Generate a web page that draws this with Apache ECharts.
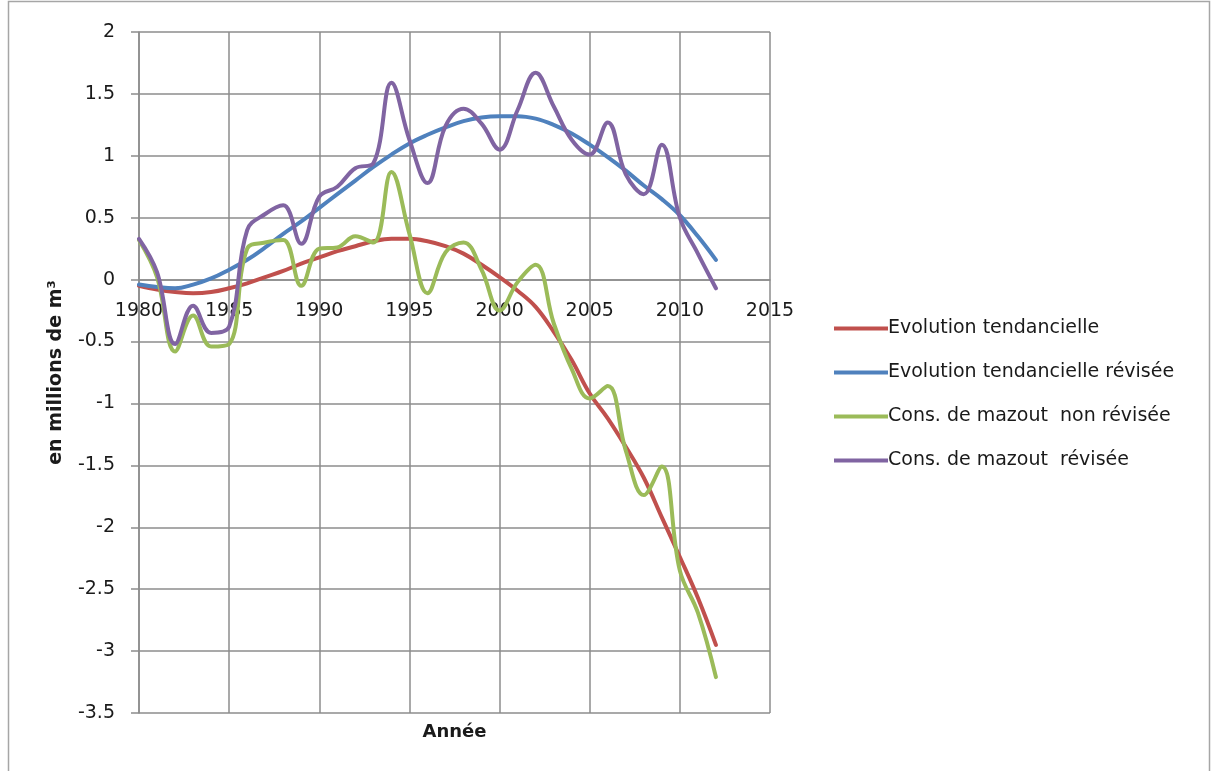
<!DOCTYPE html>
<html>
<head>
<meta charset="utf-8">
<title>Consommation de mazout</title>
<script src="https://cdn.jsdelivr.net/npm/echarts@6/dist/echarts.min.js"></script>
<style>
  html, body { margin: 0; padding: 0; background: #ffffff; }
  #chart { width: 1213px; height: 771px; }
</style>
</head>
<body>
<div id="chart"></div>
<script>
// Années 1980 à 2012
const years = [1980,1981,1982,1983,1984,1985,1986,1987,1988,1989,1990,1991,1992,1993,1994,1995,1996,
  1997,1998,1999,2000,2001,2002,2003,2004,2005,2006,2007,2008,2009,2010,2011,2012];

// Evolution tendancielle (millions de m3)
const trend = [-0.05,-0.08,-0.10,-0.11,-0.10,-0.07,-0.03,0.02,0.07,0.13,0.18,0.23,0.27,0.31,0.33,0.33,0.31,
  0.27,0.21,0.12,0.02,-0.09,-0.22,-0.42,-0.65,-0.92,-1.12,-1.35,-1.60,-1.92,-2.24,-2.57,-2.95];

// Evolution tendancielle révisée
const trendRevised = [-0.04,-0.06,-0.07,-0.04,0.01,0.08,0.16,0.26,0.37,0.47,0.58,0.69,0.80,0.91,1.01,1.10,1.17,
  1.23,1.28,1.31,1.32,1.32,1.30,1.25,1.18,1.09,0.99,0.88,0.76,0.65,0.52,0.35,0.16];

// Cons. de mazout non révisée
const consRaw = [0.32,0.02,-0.58,-0.29,-0.54,-0.52,0.25,0.30,0.32,-0.05,0.25,0.26,0.35,0.30,0.87,0.37,-0.11,
  0.22,0.30,0.08,-0.25,-0.02,0.12,-0.35,-0.72,-0.96,-0.86,-1.38,-1.74,-1.51,-2.35,-2.69,-3.21];

// Cons. de mazout révisée
const consRevised = [0.33,0.06,-0.52,-0.21,-0.43,-0.38,0.40,0.53,0.60,0.29,0.67,0.75,0.90,0.94,1.59,1.13,0.78,
  1.24,1.38,1.26,1.05,1.37,1.67,1.40,1.13,1.01,1.27,0.85,0.69,1.09,0.50,0.21,-0.07];

const seriesNames = ['Evolution tendancielle', 'Evolution tendancielle révisée',
  'Cons. de mazout  non révisée', 'Cons. de mazout  révisée'];
const seriesColors = ['#C0504D', '#4F81BD', '#9BBB59', '#8064A2'];
const seriesValues = [trend, trendRevised, consRaw, consRevised];

const font = '"DejaVu Sans", "Open Sans", sans-serif';
const gridColor = '#8c8c8c';
const textColor = '#1a1a1a';

const chart = echarts.init(document.getElementById('chart'));

chart.setOption({
  animation: false,
  backgroundColor: '#ffffff',
  textStyle: { fontFamily: font },
  graphic: [{
    type: 'rect',
    shape: { x: 8.5, y: 1.5, width: 1201, height: 800 },
    style: { fill: 'none', stroke: '#a6a6a6', lineWidth: 1.5 },
    silent: true
  }],
  grid: { left: 139, right: 443, top: 32, bottom: 58, containLabel: false, outerBoundsMode: 'none' },
  legend: {
    orient: 'vertical',
    left: 829,
    top: 314,
    itemWidth: 54,
    itemHeight: 4,
    itemGap: 25,
    icon: 'rect',
    textStyle: { fontFamily: font, fontSize: 19, color: textColor, padding: [0, 0, 0, -5] },
    data: seriesNames
  },
  xAxis: {
    type: 'value',
    min: 1980,
    max: 2015,
    interval: 5,
    offset: 0,
    name: 'Année',
    nameLocation: 'middle',
    nameGap: 444,
    nameTextStyle: { fontFamily: font, fontSize: 18, fontWeight: 'bold', color: textColor },
    axisLine: { show: true, onZero: false, lineStyle: { color: gridColor, width: 1.5 } },
    axisTick: { show: false },
    axisLabel: { fontFamily: font, fontSize: 19, color: textColor, margin: 22, formatter: v => String(v) },
    splitLine: { show: true, lineStyle: { color: gridColor, width: 1.5 } }
  },
  yAxis: {
    type: 'value',
    min: -3.5,
    max: 2,
    interval: 0.5,
    name: 'en millions de m³',
    nameLocation: 'middle',
    nameGap: 73,
    nameRotate: 90,
    nameTextStyle: { fontFamily: font, fontSize: 19, fontWeight: 'bold', color: textColor },
    axisLine: { show: true, onZero: false, lineStyle: { color: gridColor, width: 1.5 } },
    axisTick: { show: true, length: 8, lineStyle: { color: gridColor, width: 1.5 } },
    axisLabel: { fontFamily: font, fontSize: 19, color: textColor, margin: 24, formatter: v => String(v) },
    splitLine: { show: true, lineStyle: { color: gridColor, width: 1.5 } }
  },
  series: seriesNames.map((name, i) => ({
    name: name,
    type: 'line',
    smooth: 0.4,
    showSymbol: false,
    symbol: 'none',
    color: seriesColors[i],
    lineStyle: { width: 4, color: seriesColors[i], cap: 'round', join: 'round' },
    data: years.map((y, k) => [y, seriesValues[i][k]])
  }))
});

// The horizontal axis (line and year labels) crosses the vertical axis at 0:
// move it up from the bottom of the grid to the zero line.
const yBottom = chart.convertToPixel({ yAxisIndex: 0 }, -3.5);
const yZero = chart.convertToPixel({ yAxisIndex: 0 }, 0);
const shift = yBottom - yZero;
chart.setOption({
  xAxis: { offset: -shift, nameGap: 444 }
});
</script>
</body>
</html>
